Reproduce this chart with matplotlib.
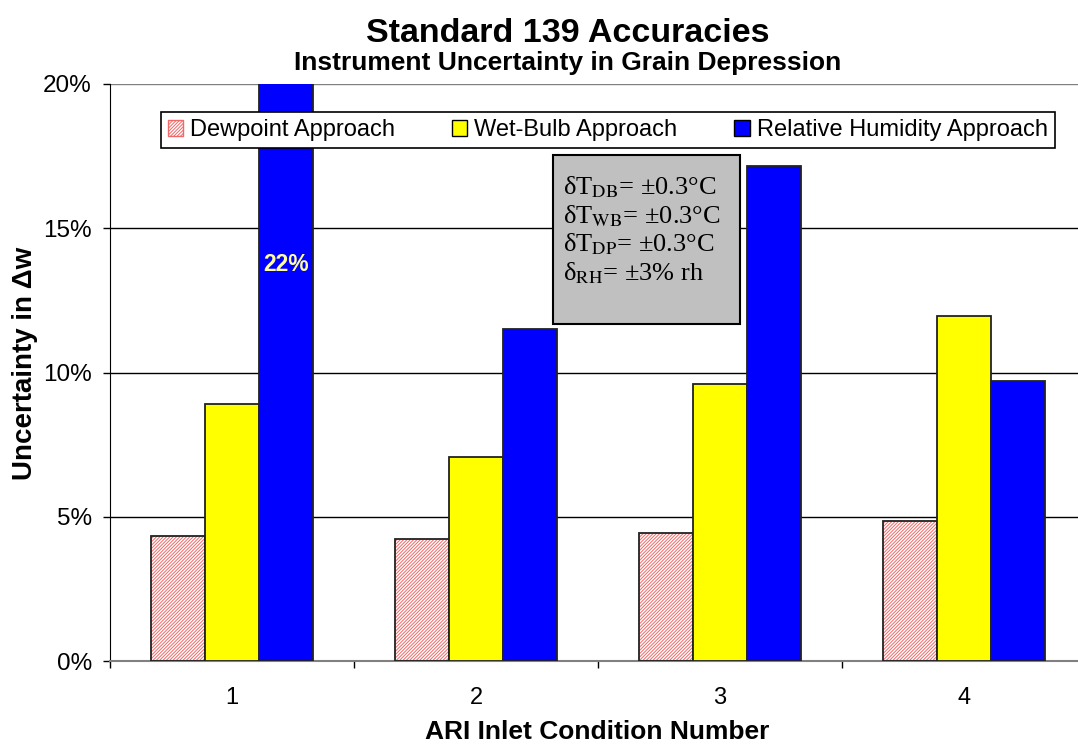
import matplotlib
matplotlib.use('Agg')
import matplotlib.pyplot as plt
import numpy as np
from matplotlib.patches import Patch, Rectangle
from matplotlib.ticker import FuncFormatter, FixedLocator

plt.rcParams['font.family'] = ['Liberation Sans', 'DejaVu Sans']
plt.rcParams['mathtext.fontset'] = 'stix'
plt.rcParams['hatch.linewidth'] = 0.7

conditions = ['1', '2', '3', '4']
series = ['Dewpoint Approach', 'Wet-Bulb Approach', 'Relative Humidity Approach']
dewpoint = [4.35, 4.24, 4.45, 4.86]
wetbulb = [8.91, 7.07, 9.60, 11.97]
rel_hum = [22.0, 11.52, 17.15, 9.71]
y_ticks = [0, 5, 10, 15, 20]
note_lines = [r'δT$_{\mathrm{DB}}$= ±0.3°C',
              r'δT$_{\mathrm{WB}}$= ±0.3°C',
              r'δT$_{\mathrm{DP}}$= ±0.3°C',
              r'δ$_{\mathrm{RH}}$= ±3% rh']

fig = plt.figure(figsize=(10.78, 7.46), dpi=100)
ax = fig.add_axes([110 / 1078, 85 / 746, 976 / 1078, 577 / 746])

x = np.arange(len(conditions))
w = 0.2226

# dewpoint: hatch first, outline on top
ax.bar(x - w, dewpoint, w, color='white', edgecolor='#F06868', hatch='//////////', linewidth=0, zorder=2)
ax.bar(x - w, dewpoint, w, fill=False, edgecolor='#222222', linewidth=1.3, zorder=3)
ax.bar(x, wetbulb, w, color='#FFFF00', edgecolor='#222222', linewidth=1.3, zorder=3)
ax.bar(x + w, rel_hum, w, color='#0000FF', edgecolor='#222222', linewidth=1.3, zorder=3)

ax.text(x[0] + w, 13.75, '22%', color='#FFFF99', fontsize=16.5, fontweight='bold',
        ha='center', va='center', zorder=4)

ax.set_xlim(-0.5, len(conditions) - 0.5)
ax.set_ylim(0, 20)
ax.set_yticks(y_ticks)
ax.yaxis.set_major_formatter(FuncFormatter(lambda v, p: f'{v:.0f}%'))
ax.set_xticks(x)
ax.set_xticklabels(conditions)
ax.xaxis.set_minor_locator(FixedLocator(np.arange(len(conditions) + 1) - 0.5))
ax.tick_params(axis='x', which='major', length=0, pad=19, labelsize=17)
ax.tick_params(axis='x', which='minor', length=5, width=1, direction='out', color='black')
ax.tick_params(axis='y', length=5, width=1, direction='out', pad=8, labelsize=17.5)

ax.set_axisbelow(True)
ax.grid(axis='y', color='black', linewidth=1)
ax.yaxis.get_gridlines()[-1].set_color('#808080')
for s in ['top', 'right']:
    ax.spines[s].set_visible(False)
ax.spines['left'].set_color('black')
ax.spines['bottom'].set_color('#808080')
ax.spines['bottom'].set_linewidth(1.5)

# note box
ax.add_patch(Rectangle((0.4539, 0.584), 0.1916, 0.293, transform=ax.transAxes,
                       facecolor='#C0C0C0', edgecolor='black', linewidth=1.5, zorder=5))
for i, line in enumerate(note_lines):
    ax.text(0.464, 0.821 - i * 0.0495, line, transform=ax.transAxes, ha='left', va='center',
            fontsize=19, family='Liberation Serif', zorder=6)

handles = [Patch(facecolor='white', edgecolor='#F06868', hatch='//////////'),
           Patch(facecolor='#FFFF00', edgecolor='black'),
           Patch(facecolor='#0000FF', edgecolor='black')]
leg = ax.legend(handles, series, loc='center', bbox_to_anchor=(0.510, 0.920), ncol=3,
                fontsize=17, handlelength=0.65, handleheight=0.65, handletextpad=0.3,
                columnspacing=2.4, fancybox=False, framealpha=1, borderpad=0.3)
leg.get_frame().set_edgecolor('black')
leg.get_frame().set_linewidth(1.2)
leg.set_zorder(7)

fig.text(568 / 1078, 1 - 34 / 746, 'Standard 139 Accuracies', ha='center', va='center',
         fontsize=24.5, fontweight='bold')
fig.text(568 / 1078, 1 - 63 / 746, 'Instrument Uncertainty in Grain Depression', ha='center',
         va='center', fontsize=19, fontweight='bold')
fig.text(25 / 1078, 1 - 363 / 746, 'Uncertainty in Δw', rotation=90, ha='center', va='center',
         fontsize=20, fontweight='bold')
fig.text(597 / 1078, 1 - 732 / 746, 'ARI Inlet Condition Number', ha='center', va='center',
         fontsize=19, fontweight='bold')

fig.savefig('out.png', dpi=100)
